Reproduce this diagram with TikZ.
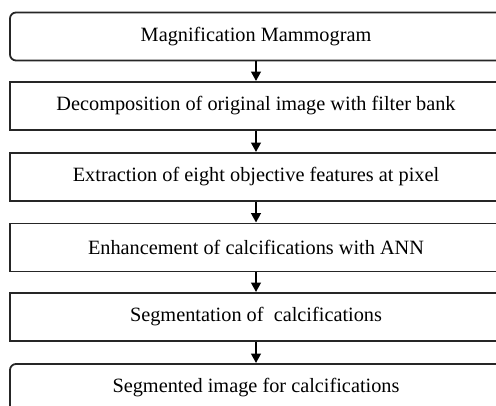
\documentclass[tikz,border=0pt]{standalone}
\usepackage{fontspec}
\setmainfont{Liberation Serif}
\usetikzlibrary{arrows.meta}
\begin{document}
\begin{tikzpicture}[x=1pt,y=-1pt,
  stepbox/.style={draw=black!85,line width=1.8pt,minimum width=492pt,minimum height=48pt,inner sep=0pt,font=\fontsize{20.3pt}{24pt}\selectfont},
  roundbox/.style={stepbox,rounded corners=6pt},
  flow/.style={line width=2.4pt,-{Triangle[width=9.5pt,length=9.5pt]}}]
\useasboundingbox (0,0) rectangle (496,406);
\clip (0,0) rectangle (496,406);
\node[roundbox] (b1) at (256,36.5) {Magnification Mammogram};
\node[stepbox] (b2) at (256,106) {Decomposition of original image with filter bank};
\node[stepbox] (b3) at (256,177) {Extraction of eight objective features at pixel};
\node[stepbox] (b4) at (256,247.5) {Enhancement of calcifications with ANN};
\node[stepbox] (b5) at (256,317) {Segmentation of\ \ calcifications};
\node[roundbox] (b6) at (256,388) {Segmented image for calcifications};
\draw[flow] (b1) -- (b2);
\draw[flow] (b2) -- (b3);
\draw[flow] (b3) -- (b4);
\draw[flow] (b4) -- (b5);
\draw[flow] (b5) -- (b6);
\end{tikzpicture}
\end{document}
